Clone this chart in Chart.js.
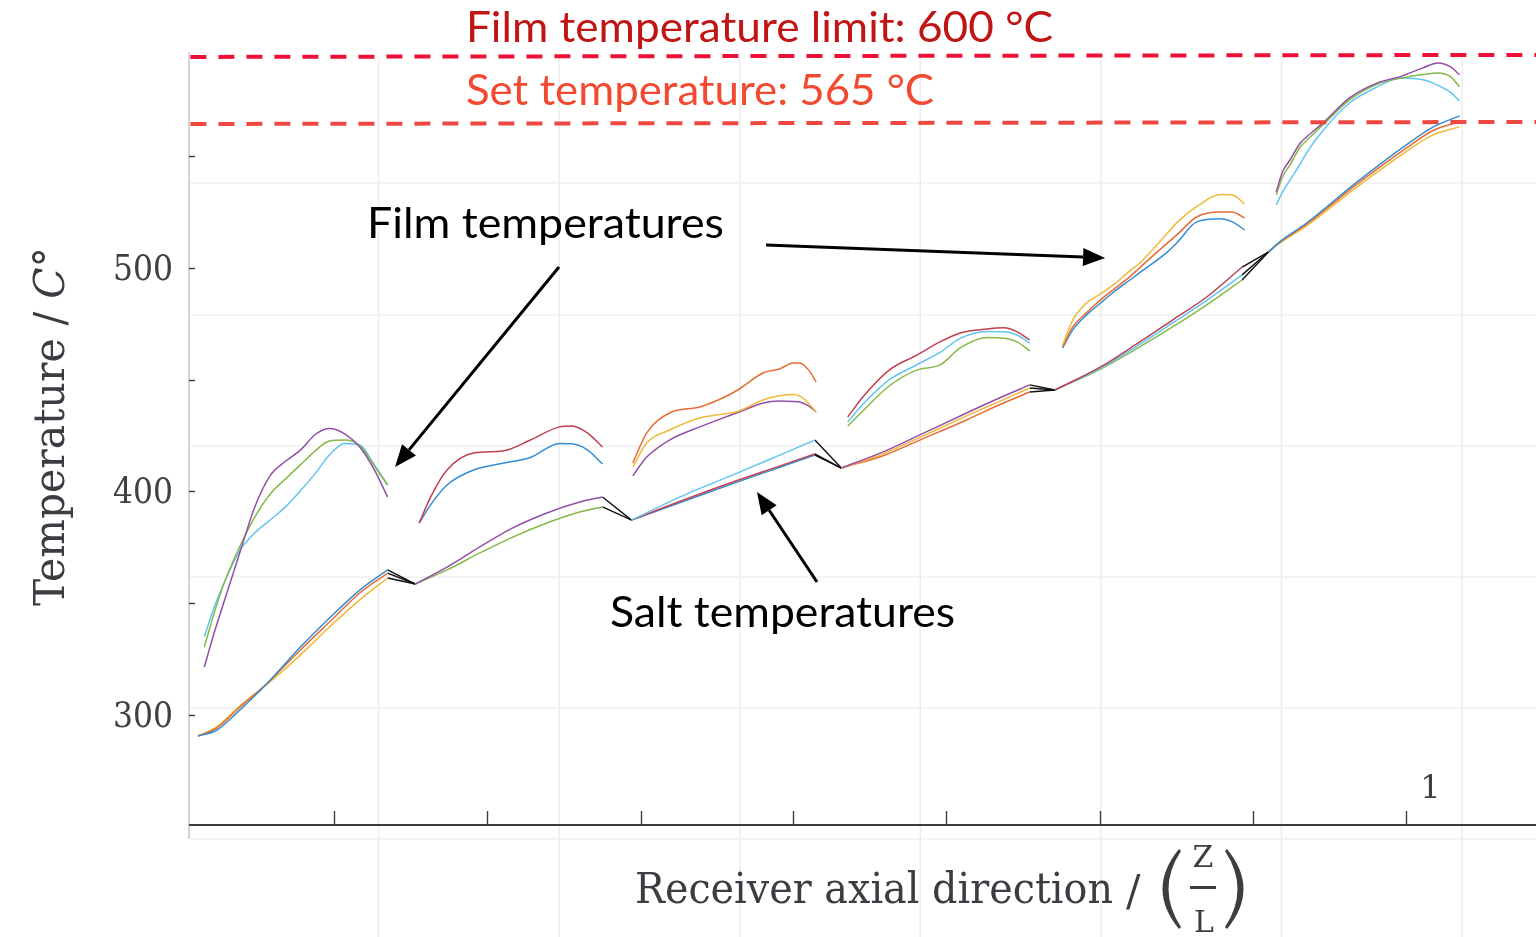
<!DOCTYPE html>
<html>
<head>
<meta charset="utf-8">
<script src="https://cdn.jsdelivr.net/npm/chart.js@4.4.1/dist/chart.umd.min.js"></script>
<style>
  html, body { margin: 0; padding: 0; background: #fff; }
  #wrap { width: 1536px; height: 937px; position: relative; }
</style>
</head>
<body>
<div id="wrap"><canvas id="temps"></canvas></div>
<script>
// axial position z/L and temperatures in °C, read panel by panel
const saltZ1 = [0, 0.015, 0.033, 0.055, 0.081, 0.104, 0.128, 0.150];
const saltP1Blue = [290.6, 293.3, 302.2, 314.3, 330.4, 343.4, 355.9, 364.9];
const saltP1Orange = [290.6, 294.3, 303.5, 314.3, 329.1, 341.6, 354.6, 363.5];
const saltP1Yellow = [290.6, 294.8, 304.0, 313.9, 326.8, 339.4, 351.5, 361.3];
const filmZ1 = [0.005, 0.013, 0.021, 0.033, 0.045, 0.057, 0.069, 0.081, 0.093, 0.104, 0.116, 0.128, 0.140, 0.150];
const filmP1Purple = [321.5, 337.1, 351.3, 372.5, 393.2, 407.0, 413.4, 418.5, 425.6, 428.2, 425.8, 419.9, 409.2, 397.5];
const filmP1Green = [330.4, 346.0, 359.5, 375.2, 388.6, 398.8, 405.5, 411.9, 418.3, 422.6, 423.0, 420.5, 411.0, 402.9];
const filmP1Sky = [335.0, 348.5, 359.5, 373.5, 381.5, 387.2, 393.0, 400.3, 408.2, 416.3, 421.5, 420.8, 411.5, 402.9];

const saltZ2 = [0.172, 0.197, 0.223, 0.249, 0.276, 0.302, 0.320];
const saltP2Purple = [358.6, 366.2, 375.2, 383.7, 390.4, 395.3, 397.5];
const saltP2Green = [358.6, 364.9, 372.5, 379.6, 385.9, 390.8, 393.1];
const filmZ2 = [0.175, 0.184, 0.197, 0.218, 0.241, 0.263, 0.286, 0.296, 0.308, 0.320];
const filmP2Crimson = [385.9, 397.5, 409.6, 417.2, 418.1, 423.0, 428.9, 429.3, 426.2, 419.9];
const filmP2Blue = [385.9, 394.0, 402.9, 409.6, 412.6, 415.2, 421.5, 421.3, 418.6, 412.3];

const saltZ3 = [0.343, 0.381, 0.427, 0.457, 0.488];
const saltP3Sky = [387.2, 397.5, 408.3, 415.5, 423.0];
const saltP3Crimson = [387.2, 395.5, 405.0, 410.8, 416.8];
const saltP3Blue = [387.2, 394.9, 404.3, 410.2, 416.3];
const filmZ3 = [0.344, 0.355, 0.373, 0.397, 0.415, 0.427, 0.447, 0.460, 0.471, 0.476, 0.483, 0.489];
const filmP3Orange = [412.8, 426.2, 435.1, 437.8, 441.8, 445.4, 453.0, 454.8, 457.5, 457.5, 454.4, 449.0];
const filmP3Yellow = [411.0, 421.7, 427.5, 432.9, 434.6, 435.8, 440.9, 442.8, 443.4, 442.7, 439.5, 435.6];
const filmP3Purple = [407.0, 415.4, 423.0, 428.9, 432.8, 435.3, 439.6, 440.5, 440.3, 440.0, 438.3, 435.6];

const saltZ4 = [0.509, 0.542, 0.571, 0.608, 0.634, 0.658];
const saltP4Purple = [410.5, 417.7, 425.3, 435.1, 441.8, 447.7];
const saltP4Yellow = [410.5, 416.8, 424.2, 433.8, 440.3, 446.3];
const saltP4Orange = [410.5, 416.0, 423.0, 432.0, 438.8, 444.5];
const filmZ4 = [0.514, 0.526, 0.547, 0.569, 0.587, 0.603, 0.624, 0.638, 0.648, 0.658];
const filmP4Crimson = [433.3, 442.3, 454.4, 461.1, 466.9, 470.9, 472.7, 473.2, 471.4, 467.8];
const filmP4Sky = [431.1, 439.0, 450.0, 456.8, 462.2, 468.5, 471.6, 471.5, 470.0, 466.4];
const filmP4Green = [429.3, 436.0, 447.3, 454.4, 456.6, 464.2, 468.9, 468.6, 466.9, 462.9];

const saltZ5 = [0.678, 0.714, 0.745, 0.771, 0.798, 0.826];
const saltP5Crimson = [445.4, 455.7, 466.9, 476.7, 487.0, 500.4];
const saltP5Sky = [445.4, 455.2, 465.8, 475.4, 485.5, 496.9];
const saltP5Green = [445.4, 454.8, 464.7, 473.6, 483.5, 494.6];
const filmZ5 = [0.684, 0.692, 0.703, 0.714, 0.724, 0.737, 0.745, 0.767, 0.775, 0.790, 0.809, 0.818, 0.828];
const filmP5Yellow = [465.5, 476.7, 484.3, 488.4, 492.4, 498.6, 502.2, 515.6, 520.6, 527.4, 532.8, 532.7, 528.6];
const filmP5Orange = [464.7, 473.6, 480.0, 485.7, 490.2, 496.0, 500.1, 511.2, 515.1, 522.8, 525.0, 525.0, 522.4];
const filmP5Blue = [464.2, 472.3, 479.0, 484.3, 489.0, 494.5, 497.9, 507.2, 511.6, 520.6, 522.0, 520.7, 517.0];

const saltZ6 = [0.847, 0.856, 0.877, 0.917, 0.957, 0.977, 0.998];
const saltP6Blue = [507.2, 511.8, 520.1, 538.5, 555.5, 563.0, 568.0];
const saltP6Orange = [507.2, 511.6, 519.6, 537.5, 554.0, 561.5, 565.3];
const saltP6Yellow = [507.2, 511.2, 518.8, 536.3, 552.5, 559.5, 563.1];
const filmZ6 = [0.853, 0.858, 0.864, 0.872, 0.877, 0.890, 0.911, 0.933, 0.951, 0.969, 0.981, 0.991, 0.998];
const filmP6Purple = [534.0, 543.0, 548.4, 555.9, 558.6, 564.9, 576.1, 582.8, 585.6, 589.5, 591.7, 589.9, 586.4];
const filmP6Green = [532.7, 540.7, 546.2, 554.1, 557.0, 564.0, 575.2, 582.3, 584.8, 586.5, 587.2, 585.5, 581.0];
const filmP6Sky = [528.2, 534.0, 539.4, 546.5, 551.5, 561.5, 573.8, 581.0, 585.0, 584.2, 581.7, 578.5, 574.7];

// reference lines (limit and set point), slightly tilted as in the figure
const refZ = [-0.006, 1.0585];
const limitT = [594.4, 595.3];
const setT = [564.4, 565.3];

// axes
const zMin = -0.0079, zMax = 1.0585;
const tMin = 250.8, tMax = 596.6;
const xTicks = [0.1076, 0.2286, 0.3505, 0.4707, 0.5918, 0.7136, 0.8347, 0.9557];
const yTicks = [300, 350, 400, 450, 500, 550];
const yLabels = [300, 400, 500];
const gridZ = [1 / 7, 2 / 7, 3 / 7, 4 / 7, 5 / 7, 6 / 7, 1];
const gridT = [538.0, 479.0, 420.4, 361.7, 303.1, 244.5];

const col = {
  blue: '#358cd0', orange: '#e66c38', yellow: '#f2b83a', purple: '#934ea8',
  green: '#84b948', sky: '#62c5f0', crimson: '#c0404f'
};

const saltPanels = [
  { z: saltZ1, lines: [[saltP1Blue, col.blue], [saltP1Orange, col.orange], [saltP1Yellow, col.yellow]] },
  { z: saltZ2, lines: [[saltP2Purple, col.purple], [saltP2Green, col.green]] },
  { z: saltZ3, lines: [[saltP3Sky, col.sky], [saltP3Crimson, col.crimson], [saltP3Blue, col.blue]] },
  { z: saltZ4, lines: [[saltP4Purple, col.purple], [saltP4Yellow, col.yellow], [saltP4Orange, col.orange]] },
  { z: saltZ5, lines: [[saltP5Crimson, col.crimson], [saltP5Sky, col.sky], [saltP5Green, col.green]] },
  { z: saltZ6, lines: [[saltP6Blue, col.blue], [saltP6Orange, col.orange], [saltP6Yellow, col.yellow]] }
];
const filmPanels = [
  { z: filmZ1, lines: [[filmP1Purple, col.purple], [filmP1Green, col.green], [filmP1Sky, col.sky]] },
  { z: filmZ2, lines: [[filmP2Crimson, col.crimson], [filmP2Blue, col.blue]] },
  { z: filmZ3, lines: [[filmP3Orange, col.orange], [filmP3Yellow, col.yellow], [filmP3Purple, col.purple]] },
  { z: filmZ4, lines: [[filmP4Crimson, col.crimson], [filmP4Sky, col.sky], [filmP4Green, col.green]] },
  { z: filmZ5, lines: [[filmP5Yellow, col.yellow], [filmP5Orange, col.orange], [filmP5Blue, col.blue]] },
  { z: filmZ6, lines: [[filmP6Purple, col.purple], [filmP6Green, col.green], [filmP6Sky, col.sky]] }
];

function curve(z, t, color) {
  return {
    data: z.map((v, i) => ({ x: v, y: t[i] })),
    borderColor: color, borderWidth: 1.5, pointRadius: 0,
    cubicInterpolationMode: 'monotone', fill: false
  };
}

const datasets = [];
[...saltPanels, ...filmPanels].forEach(p => {
  p.lines.forEach(([t, c]) => datasets.push(curve(p.z, t, c)));
});
// black links from the end of each salt pass to the mixed inlet of the next pass
saltPanels.forEach((p, i) => {
  const next = saltPanels[i + 1];
  if (!next) return;
  p.lines.forEach(([t]) => {
    datasets.push({
      data: [{ x: p.z[p.z.length - 1], y: t[t.length - 1] }, { x: next.z[0], y: next.lines[0][0][0] }],
      borderColor: '#111', borderWidth: 1.4, pointRadius: 0, tension: 0
    });
  });
});
datasets.push({
  data: refZ.map((z, i) => ({ x: z, y: limitT[i] })),
  borderColor: '#ee1137', borderWidth: 4, borderDash: [16, 12], pointRadius: 0, order: -1
});
datasets.push({
  data: refZ.map((z, i) => ({ x: z, y: setT[i] })),
  borderColor: '#ef4842', borderWidth: 4, borderDash: [16, 12], pointRadius: 0, order: -1
});

// annotations in data coordinates
const notes = [
  { text: 'Film temperature limit: 600 °C', z0: 0.2120, z1: 0.6764, t: 601.1, color: '#c01515' },
  { text: 'Set temperature: 565 °C', z0: 0.2120, z1: 0.5823, t: 572.9, color: '#f24a30' },
  { text: 'Film temperatures', z0: 0.1337, z1: 0.4161, t: 513.4, color: '#000' },
  { text: 'Salt temperatures', z0: 0.3259, z1: 0.5989, t: 339.4, color: '#000' }
];
const noteArrows = [
  [0.2856, 500.4, 0.1559, 411.0],
  [0.4494, 510.3, 0.7176, 504.5],
  [0.4897, 359.5, 0.4422, 399.8]
];

function seg(ctx, x0, y0, x1, y1) {
  ctx.beginPath(); ctx.moveTo(x0, y0); ctx.lineTo(x1, y1); ctx.stroke();
}

function fitText(ctx, parts, x, y, width) {
  let total = 0;
  parts.forEach(([s, f]) => { ctx.font = f; total += ctx.measureText(s).width; });
  const k = width / total;
  ctx.save();
  ctx.translate(x, y);
  ctx.scale(k, 1);
  let cx = 0;
  parts.forEach(([s, f]) => { ctx.font = f; ctx.fillText(s, cx, 0); cx += ctx.measureText(s).width; });
  ctx.restore();
}

function arrow(ctx, x0, y0, x1, y1, len, half) {
  const a = Math.atan2(y1 - y0, x1 - x0);
  const bx = x1 - len * Math.cos(a), by = y1 - len * Math.sin(a);
  seg(ctx, x0, y0, bx, by);
  ctx.beginPath();
  ctx.moveTo(x1, y1);
  ctx.lineTo(bx + half * Math.sin(a), by - half * Math.cos(a));
  ctx.lineTo(bx - half * Math.sin(a), by + half * Math.cos(a));
  ctx.closePath();
  ctx.fill();
}

const serif = 'px "DejaVu Serif"';

const decor = {
  id: 'decor',
  beforeDatasetsDraw(chart) {
    const { ctx, chartArea: a } = chart;
    const x = chart.scales.x, y = chart.scales.y;
    ctx.save();
    ctx.lineWidth = 1.5;
    ctx.strokeStyle = '#ececec';
    gridZ.forEach(z => {
      const px = x.getPixelForValue(z);
      seg(ctx, px, y.getPixelForValue(594), px, chart.height);
    });
    ctx.strokeStyle = '#f1f1f1';
    gridT.forEach(t => {
      const py = y.getPixelForValue(t);
      seg(ctx, a.left + 2, py, a.right, py);
    });
    ctx.strokeStyle = '#d4d4d4';
    ctx.lineWidth = 2;
    seg(ctx, a.left + 1, a.top, a.left + 1, y.getPixelForValue(gridT[gridT.length - 1]));
    ctx.restore();
  },
  afterDatasetsDraw(chart) {
    const { ctx, chartArea: a } = chart;
    const x = chart.scales.x, y = chart.scales.y;
    ctx.save();
    // x axis with inward ticks
    ctx.strokeStyle = '#3c3c3c';
    ctx.lineWidth = 2;
    seg(ctx, a.left + 1, a.bottom, a.right, a.bottom);
    ctx.lineWidth = 1.4;
    xTicks.forEach(z => {
      const px = Math.round(x.getPixelForValue(z)) + 0.5;
      seg(ctx, px, a.bottom, px, a.bottom - 14);
    });
    yTicks.forEach(t => {
      const py = Math.round(y.getPixelForValue(t)) + 0.5;
      seg(ctx, a.left + 1, py, a.left + 7, py);
    });
    // tick labels
    ctx.fillStyle = '#404040';
    ctx.textBaseline = 'alphabetic';
    yLabels.forEach(t => {
      const py = y.getPixelForValue(t) + 12;
      fitText(ctx, [[String(t), '36' + serif]], a.left - 75, py, 60);
    });
    ctx.font = '32' + serif;
    ctx.textAlign = 'center';
    ctx.fillText('1', x.getPixelForValue(0.975), y.getPixelForValue(262.9));
    ctx.textAlign = 'left';

    // axis titles
    ctx.fillStyle = '#3a3d42';
    ctx.save();
    ctx.translate(64, 606);
    ctx.rotate(-Math.PI / 2);
    fitText(ctx, [['Temperature / ', '43' + serif], ['C', 'italic 43' + serif], ['°', '43' + serif]], 0, 0, 359);
    ctx.restore();
    fitText(ctx, [['Receiver axial direction', '43' + serif]], 635, 903, 478);
    ctx.font = '43' + serif;
    ctx.fillText('/', 1126, 905);
    ctx.font = '30' + serif;
    ctx.textAlign = 'center';
    ctx.fillText('Z', 1203, 867);
    ctx.fillText('L', 1204, 932);
    ctx.fillRect(1190, 886, 26, 3);
    ctx.beginPath();
    ctx.moveTo(1179, 849); ctx.quadraticCurveTo(1146, 889, 1179, 929);
    ctx.lineTo(1181, 927); ctx.quadraticCurveTo(1156, 889, 1181, 851);
    ctx.closePath(); ctx.fill();
    ctx.beginPath();
    ctx.moveTo(1227, 849); ctx.quadraticCurveTo(1260, 889, 1227, 929);
    ctx.lineTo(1225, 927); ctx.quadraticCurveTo(1250, 889, 1225, 851);
    ctx.closePath(); ctx.fill();
    ctx.textAlign = 'left';

    // notes and arrows
    notes.forEach(n => {
      ctx.fillStyle = n.color;
      const x0 = x.getPixelForValue(n.z0), x1 = x.getPixelForValue(n.z1);
      fitText(ctx, [[n.text, '42px Lato']], x0, y.getPixelForValue(n.t), x1 - x0);
    });
    ctx.strokeStyle = '#000';
    ctx.fillStyle = '#000';
    ctx.lineWidth = 3;
    noteArrows.forEach(([z0, t0, z1, t1]) => {
      arrow(ctx, x.getPixelForValue(z0), y.getPixelForValue(t0), x.getPixelForValue(z1), y.getPixelForValue(t1), 22, 9);
    });
    ctx.restore();
  }
};

new Chart(document.getElementById('temps'), {
  type: 'line',
  data: { datasets: datasets },
  options: {
    responsive: true,
    maintainAspectRatio: false,
    animation: false,
    events: [],
    layout: { padding: { left: 188, right: 0, top: 52, bottom: 112 } },
    plugins: { legend: { display: false }, tooltip: { enabled: false } },
    scales: {
      x: { type: 'linear', min: zMin, max: zMax, display: false },
      y: { type: 'linear', min: tMin, max: tMax, display: false }
    }
  },
  plugins: [decor]
});
</script>
</body>
</html>
